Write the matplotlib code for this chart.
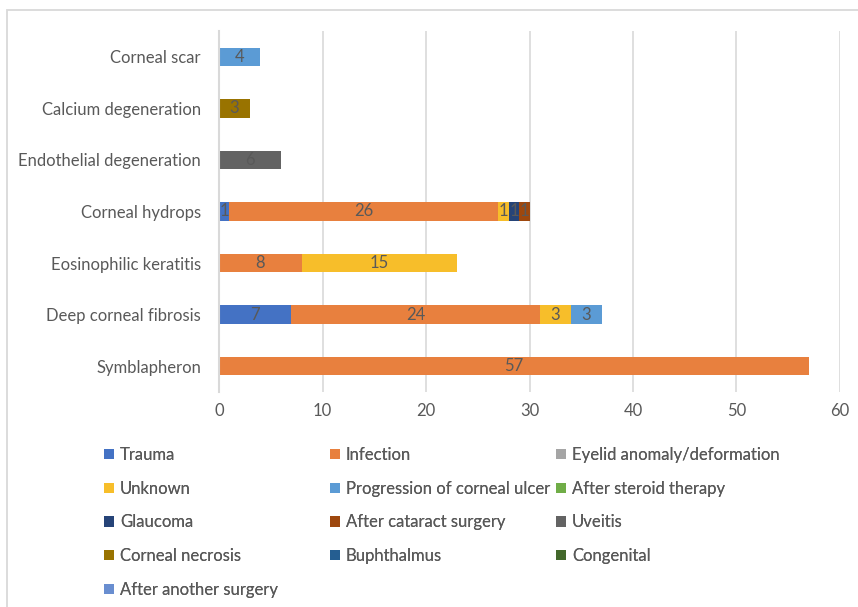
import matplotlib
matplotlib.use("Agg")
import matplotlib.pyplot as plt
from matplotlib.patches import Rectangle, Patch
import numpy as np

plt.rcParams['font.family'] = ['Lato', 'DejaVu Sans']

# Categories listed bottom to top on the horizontal axis
categories = ["Symblapheron", "Deep corneal fibrosis", "Eosinophilic keratitis",
              "Corneal hydrops", "Endothelial degeneration", "Calcium degeneration",
              "Corneal scar"]

series_names = ["Trauma", "Infection", "Eyelid anomaly/deformation", "Unknown",
                "Progression of corneal ulcer", "After steroid therapy", "Glaucoma",
                "After cataract surgery", "Uveitis", "Corneal necrosis", "Buphthalmus",
                "Congenital", "After another surgery"]

trauma = [0, 7, 0, 1, 0, 0, 0]
infection = [57, 24, 8, 26, 0, 0, 0]
eyelid = [0, 0, 0, 0, 0, 0, 0]
unknown = [0, 3, 15, 1, 0, 0, 0]
progression = [0, 3, 0, 0, 0, 0, 4]
steroid = [0, 0, 0, 0, 0, 0, 0]
glaucoma = [0, 0, 0, 1, 0, 0, 0]
cataract = [0, 0, 0, 1, 0, 0, 0]
uveitis = [0, 0, 0, 0, 6, 0, 0]
necrosis = [0, 0, 0, 0, 0, 3, 0]
buphthalmus = [0, 0, 0, 0, 0, 0, 0]
congenital = [0, 0, 0, 0, 0, 0, 0]
other_surgery = [0, 0, 0, 0, 0, 0, 0]

series_values = [trauma, infection, eyelid, unknown, progression, steroid, glaucoma,
                 cataract, uveitis, necrosis, buphthalmus, congenital, other_surgery]

colors = ["#4472C4", "#E8803E", "#A5A5A5", "#F7BE2A", "#5B9BD5", "#70AD47",
          "#264478", "#9E480E", "#636363", "#997300", "#255E91", "#43682B", "#698ED0"]

x_ticks = [0, 10, 20, 30, 40, 50, 60]

TEXT = "#595959"
GRID = "#D9D9D9"
W, H = 858, 607
FS = 12

fig = plt.figure(figsize=(W / 100, H / 100), dpi=100)
ax = fig.add_axes([219 / W, 1 - 392 / H, (840 - 219) / W, (392 - 31) / H])

y = np.arange(len(categories))
left = np.zeros(len(categories))
handles = []
for name, vals, col in zip(series_names, series_values, colors):
    vals = np.array(vals, dtype=float)
    bars = ax.barh(y, vals, left=left, height=0.36, color=col, label=name)
    labels = [f"{int(v)}" if v > 0 else "" for v in vals]
    ax.bar_label(bars, labels=labels, label_type="center", color=TEXT, fontsize=FS)
    left += vals
    handles.append(Patch(facecolor=col, edgecolor="none", label=name))

ax.set_xlim(0, 60)
ax.set_ylim(-0.5, len(categories) - 0.5)
ax.set_xticks(x_ticks)
ax.set_yticks(y)
ax.set_yticklabels(categories)
ax.tick_params(axis="both", length=0, colors=TEXT, labelsize=FS)
ax.tick_params(axis="y", pad=13)
ax.tick_params(axis="x", pad=8)
ax.xaxis.grid(True, color=GRID, linewidth=1.2)
ax.set_axisbelow(True)
for side in ["top", "right", "bottom"]:
    ax.spines[side].set_visible(False)
ax.spines["left"].set_color(GRID)
ax.spines["left"].set_linewidth(1.5)

# Legend laid out in three fixed-width columns, filled row by row
col_x = [104, 330, 556]
for c in range(3):
    idx = list(range(c, len(handles), 3))
    leg = fig.legend(handles=[handles[i] for i in idx], loc="upper left",
                     bbox_to_anchor=(col_x[c] / W, 1 - 447 / H), frameon=False,
                     fontsize=FS, labelcolor=TEXT, handlelength=0.6, handleheight=0.6,
                     handletextpad=0.35, labelspacing=1.06, borderpad=0, borderaxespad=0)
    fig.add_artist(leg)

# Chart area border
fig.add_artist(Rectangle((7 / W, -0.05), 1.2, 1 - 9.5 / H + 0.05, transform=fig.transFigure,
                         fill=False, edgecolor=GRID, linewidth=1.3))

fig.savefig("out.png", dpi=100)
